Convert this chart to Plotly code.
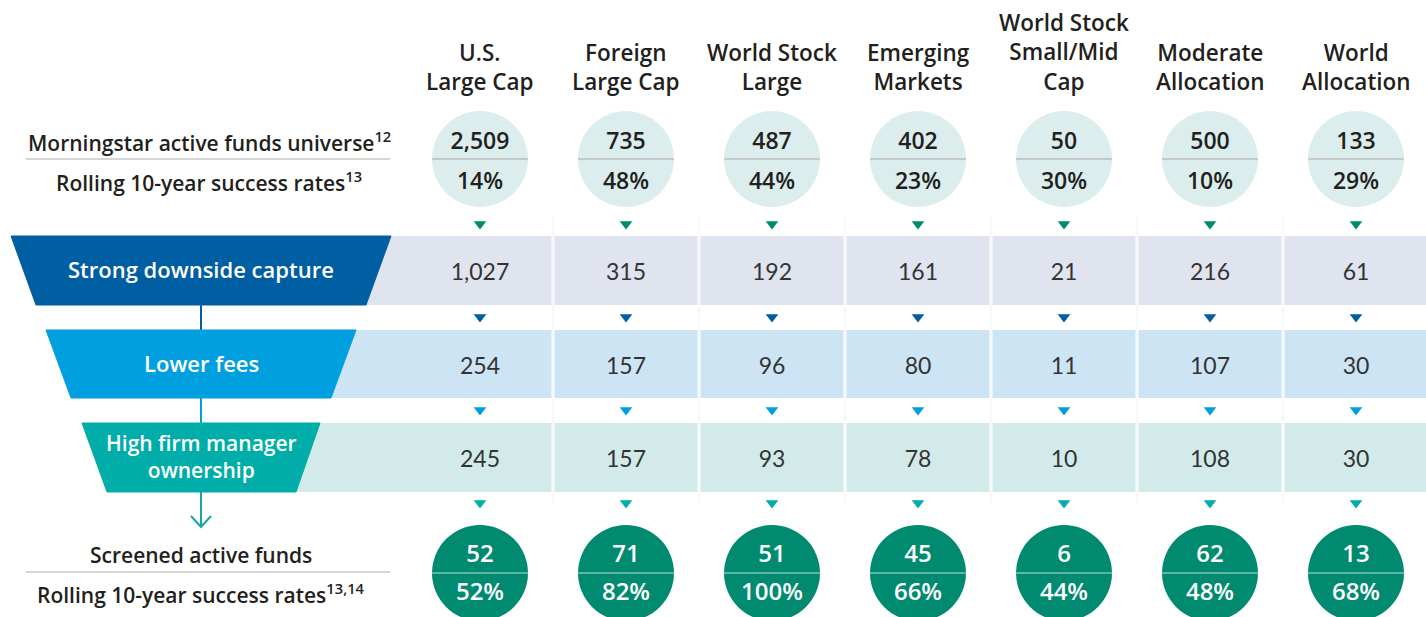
import plotly.graph_objects as go

# ---------------- data ----------------
categories = ["U.S.<br>Large Cap", "Foreign<br>Large Cap", "World Stock<br>Large",
              "Emerging<br>Markets", "World Stock<br>Small/Mid<br>Cap",
              "Moderate<br>Allocation", "World<br>Allocation"]
universe = ["2,509", "735", "487", "402", "50", "500", "133"]
universe_rate = ["14%", "48%", "44%", "23%", "30%", "10%", "29%"]
downside = ["1,027", "315", "192", "161", "21", "216", "61"]
fees = ["254", "157", "96", "80", "11", "107", "30"]
ownership = ["245", "157", "93", "78", "10", "108", "30"]
screened = ["52", "71", "51", "45", "6", "62", "13"]
screened_rate = ["52%", "82%", "100%", "66%", "44%", "48%", "68%"]

screens = ["Strong downside capture", "Lower fees", "High firm manager<br>ownership"]
screen_values = [downside, fees, ownership]
left_top = ["Morningstar active funds universe<sup>12</sup>", "Rolling 10-year success rates<sup>13</sup>"]
left_bottom = ["Screened active funds", "Rolling 10-year success rates<sup>13,14</sup>"]

# ---------------- styles ----------------
W, H = 1426, 617
COL0, STEP = 480, 146          # pixel position of first column centre and spacing
BOLD = "Open Sans"
REG = "Lato"
DARK = "#231f20"
funnel_colors = ["#005ea2", "#009fdf", "#00ada8"]
band_colors = ["#dfe4ef", "#cde4f5", "#d2ebea"]
tri_colors = ["#00896f", "#005ea2", "#009fdf", "#00ada8"]
top_circle = "#dbeeed"
bot_circle = "#008a70"


def px(p):
    """convert a pixel x position to column units of the x axis"""
    return (p - COL0) / STEP


idx = list(range(len(categories)))
fig = go.Figure()
shapes = []
ann = []

# faint column guide lines
for i in idx[:-1]:
    shapes.append(dict(type="line", xref="x", yref="y", x0=i + 0.5, x1=i + 0.5, y0=215, y1=505,
                       line=dict(color="#eef1f4", width=1), layer="below"))

# band rows (y pixel bounds)
band_y = [(236, 305), (330, 398), (423, 492)]
funnels = [((11, 391), (36, 366)), ((46, 356), (71, 331)), ((82, 320), (107, 296))]

for b, (y0, y1) in enumerate(band_y):
    for i in idx:
        left = px(funnels[b][1][0] + 150) if i == 0 else i - 0.5 + px(COL0 + 1.5)
        right = i + 0.5 - px(COL0 + 1.5) if i < len(idx) - 1 else px(W + 2)
        shapes.append(dict(type="rect", xref="x", yref="y", x0=left, x1=right, y0=y0, y1=y1,
                           fillcolor=band_colors[b], line_width=0, layer="below"))
    (tl, tr), (bl, br) = funnels[b]
    path = f"M {px(tl)} {y0} L {px(tr)} {y0} L {px(br)} {y1} L {px(bl)} {y1} Z"
    shapes.append(dict(type="path", path=path, xref="x", yref="y",
                       fillcolor=funnel_colors[b], line=dict(color=funnel_colors[b], width=1)))
    ymid = (y0 + y1) / 2
    two = "<br>" in screens[b]
    ann.append(dict(x=px(201), y=ymid - 1.5, xref="x", yref="y", text=screens[b], showarrow=False,
                    font=dict(family=BOLD, size=21 if two else 22, color="white", weight=600)))
    fig.add_trace(go.Scatter(x=idx, y=[ymid + 4] * 7, mode="text", text=screen_values[b],
                             textfont=dict(family=REG, size=23, color="#333333"),
                             hoverinfo="skip", showlegend=False))

# connector line with arrow
seg = [((305, 330), funnel_colors[0]), ((398, 423), funnel_colors[1]), ((492, 527), "#1aa3a8")]
for (ya, yb), c in seg:
    shapes.append(dict(type="line", xref="x", yref="y", x0=px(201), x1=px(201), y0=ya, y1=yb,
                       line=dict(color=c, width=2), layer="below"))
shapes.append(dict(type="path", xref="x", yref="y",
                   path=f"M {px(191)} 516 L {px(201)} 527 L {px(211)} 516",
                   line=dict(color="#1aa3a8", width=2)))

# top circles
fig.add_trace(go.Scatter(x=idx, y=[159] * 7, mode="markers",
                         marker=dict(size=96, color=top_circle, line_width=0),
                         hoverinfo="skip", showlegend=False))
fig.add_trace(go.Scatter(x=idx, y=[143] * 7, mode="text", text=universe,
                         textfont=dict(family=BOLD, size=23, color=DARK, weight=600),
                         hoverinfo="skip", showlegend=False))
fig.add_trace(go.Scatter(x=idx, y=[183] * 7, mode="text", text=universe_rate,
                         textfont=dict(family=BOLD, size=23, color=DARK, weight=600),
                         hoverinfo="skip", showlegend=False))

# bottom circles
fig.add_trace(go.Scatter(x=idx, y=[573] * 7, mode="markers",
                         marker=dict(size=96, color=bot_circle, line_width=0),
                         hoverinfo="skip", showlegend=False))
fig.add_trace(go.Scatter(x=idx, y=[556] * 7, mode="text", text=screened,
                         textfont=dict(family=BOLD, size=24, color="white", weight=600),
                         hoverinfo="skip", showlegend=False))
fig.add_trace(go.Scatter(x=idx, y=[594] * 7, mode="text", text=screened_rate,
                         textfont=dict(family=BOLD, size=24, color="white", weight=600),
                         hoverinfo="skip", showlegend=False))

# circle dividers
for i in idx:
    shapes.append(dict(type="line", xref="x", yref="y", x0=i - px(COL0 + 48), x1=i + px(COL0 + 48),
                       y0=159, y1=159, line=dict(color="#bdbdbd", width=1.5)))
    shapes.append(dict(type="line", xref="x", yref="y", x0=i - px(COL0 + 48), x1=i + px(COL0 + 48),
                       y0=573, y1=573, line=dict(color="#7cc5b5", width=1.5)))

# small triangles
for k, yt in enumerate([224, 317, 410, 503]):
    fig.add_trace(go.Scatter(x=idx, y=[yt] * 7, mode="markers",
                             marker=dict(symbol="triangle-down", size=11, color=tri_colors[k], line_width=0),
                             hoverinfo="skip", showlegend=False))

# column headers
for i, c in enumerate(categories):
    ann.append(dict(x=i, y=99, xref="x", yref="y", text=c, showarrow=False, yanchor="bottom",
                    font=dict(family=BOLD, size=22.5, color=DARK, weight=600)))

# left labels
for t, ya in [(left_top[0], 141), (left_top[1], 181)]:
    ann.append(dict(x=px(209), y=ya, xref="x", yref="y", text=t, showarrow=False,
                    font=dict(family=BOLD, size=21, color=DARK, weight=600)))
for t, ya in [(left_bottom[0], 555), (left_bottom[1], 593)]:
    ann.append(dict(x=px(201), y=ya, xref="x", yref="y", text=t, showarrow=False,
                    font=dict(family=BOLD, size=21, color=DARK, weight=600)))
for yl in (159, 572):
    shapes.append(dict(type="line", xref="x", yref="y", x0=px(26), x1=px(390), y0=yl, y1=yl,
                       line=dict(color="#c8c8c8", width=1.5)))

fig.update_layout(
    width=W, height=H, margin=dict(l=0, r=0, t=0, b=0),
    paper_bgcolor="white", plot_bgcolor="white",
    xaxis=dict(range=[px(0), px(W)], visible=False, fixedrange=True),
    yaxis=dict(range=[H, 0], visible=False, fixedrange=True),
    shapes=shapes, annotations=ann, showlegend=False,
)
fig.write_html("out.html", config={"displayModeBar": False},
               post_script="document.body.style.margin='0';document.body.style.overflow='hidden';")
